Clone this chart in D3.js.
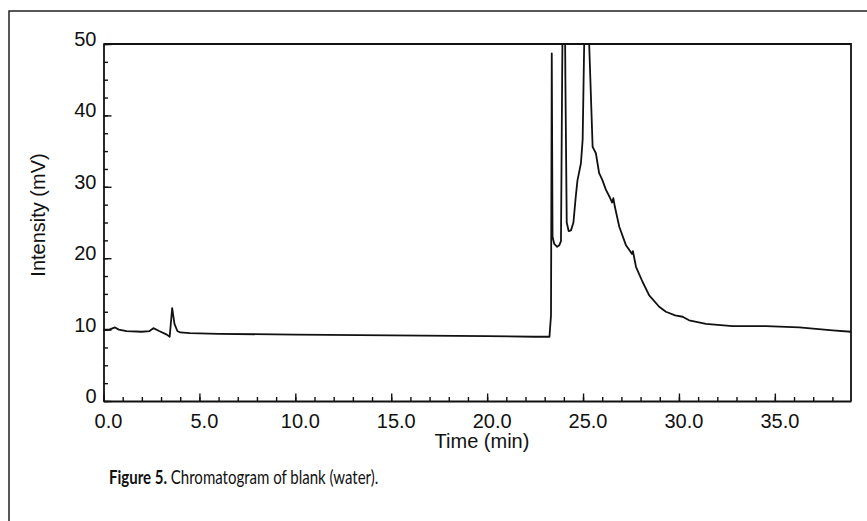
<!DOCTYPE html>
<html>
<head>
<meta charset="utf-8">
<script src="https://cdn.jsdelivr.net/npm/d3@7"></script>
<style>
  body { margin: 0; background: #fff; }
  text { fill: #111; }
</style>
</head>
<body>
<div id="chart"></div>
<script>
// chromatogram trace (time in min, intensity in mV)
var times = [0, 0.3, 0.6, 0.8, 1.2, 2.0, 2.4, 2.6, 2.9, 3.3, 3.45, 3.58, 3.7, 3.85, 4.0, 4.5,
  6, 10, 15, 20, 22.5, 23.25, 23.33, 23.37, 23.41, 23.5, 23.65, 23.76, 23.85, 23.91,
  24.0, 24.08, 24.15, 24.25, 24.37, 24.5, 24.62, 24.71, 24.89, 24.98, 25.06, 25.18, 25.32,
  25.5, 25.67, 25.84, 26.0, 26.19, 26.4, 26.52, 26.58, 26.66, 26.89, 27.24, 27.45, 27.55,
  27.6, 27.76, 28.1, 28.45, 28.97, 29.32, 29.8, 30.19, 30.53, 31.41, 32.79, 34.54, 36.27,
  38.01, 38.97];
var intensity = [10.0, 10.0, 10.3, 10.0, 9.8, 9.7, 9.8, 10.2, 9.8, 9.3, 9.0, 13.0, 10.8, 9.8, 9.6, 9.5,
  9.4, 9.3, 9.2, 9.1, 9.0, 9.0, 12.0, 48.7, 23.0, 22.0, 21.6, 21.8, 22.4, 45,
  75, 45, 25.0, 23.8, 23.9, 25.0, 28.6, 30.9, 33.3, 36.6, 50, 80, 50,
  35.6, 34.7, 31.9, 31.0, 29.6, 28.5, 27.8, 28.4, 27.2, 24.4, 21.8, 21.0, 20.6,
  21.0, 18.8, 16.7, 14.8, 13.2, 12.5, 12.0, 11.8, 11.3, 10.8, 10.5, 10.5, 10.3,
  9.9, 9.7];

var xMajor = [0, 5, 10, 15, 20, 25, 30, 35];
var yMajor = [0, 10, 20, 30, 40, 50];

var width = 867, height = 521;
var plotLeft = 103.5, plotRight = 851, plotTop = 44, plotBottom = 401;
var font = "'Liberation Sans', Arial, sans-serif";

var svg = d3.select("#chart").append("svg")
  .attr("width", width)
  .attr("height", height)
  .style("font-family", font);

// outer figure frame (runs off the right and bottom edge)
svg.append("rect")
  .attr("x", 9).attr("y", 11)
  .attr("width", 900).attr("height", 560)
  .attr("fill", "none")
  .attr("stroke", "#222")
  .attr("stroke-width", 1.5);

var x = d3.scaleLinear().domain([0, 38.97]).range([plotLeft, plotRight]);
var y = d3.scaleLinear().domain([0, 50]).range([plotBottom, plotTop]);

svg.append("clipPath").attr("id", "plotClip")
  .append("rect")
  .attr("x", plotLeft).attr("y", plotTop)
  .attr("width", plotRight - plotLeft).attr("height", plotBottom - plotTop);

// plot box top + right
svg.append("path")
  .attr("d", "M" + plotLeft + "," + plotTop + "H" + plotRight + "V" + plotBottom)
  .attr("fill", "none")
  .attr("stroke", "#111")
  .attr("stroke-width", 1.8);

// minor ticks
svg.append("g")
  .attr("transform", "translate(0," + plotBottom + ")")
  .call(d3.axisBottom(x).tickValues(d3.range(0, 39, 1)).tickSize(-4).tickSizeOuter(0).tickFormat(""))
  .call(function(g) { g.select(".domain").remove(); });

svg.append("g")
  .attr("transform", "translate(" + plotLeft + ",0)")
  .call(d3.axisLeft(y).tickValues(d3.range(0, 50.1, 2.5)).tickSize(-4.5).tickSizeOuter(0).tickFormat(""))
  .call(function(g) { g.select(".domain").remove(); });

// major ticks + labels
var xAxis = svg.append("g")
  .attr("transform", "translate(0," + plotBottom + ")")
  .call(d3.axisBottom(x).tickValues(xMajor).tickSize(-7.5).tickSizeOuter(0)
    .tickPadding(13).tickFormat(d3.format(".1f")));
xAxis.selectAll("text").attr("dx", 4.5);

var yAxis = svg.append("g")
  .attr("transform", "translate(" + plotLeft + ",0)")
  .call(d3.axisLeft(y).tickValues(yMajor).tickSize(-8).tickSizeOuter(0).tickPadding(7));
yAxis.selectAll("text").attr("y", -5);

svg.selectAll(".tick text")
  .style("font-family", font)
  .style("font-size", "20px")
  .attr("fill", "#111");
svg.selectAll(".domain").attr("stroke", "#111").attr("stroke-width", 1.8);
svg.selectAll(".tick line").attr("stroke", "#111").attr("stroke-width", 1.4);

// axis titles
svg.append("text")
  .attr("x", 482).attr("y", 448)
  .attr("text-anchor", "middle")
  .style("font-size", "20px")
  .text("Time (min)");

svg.append("text")
  .attr("transform", "translate(45,215) rotate(-90)")
  .attr("text-anchor", "middle")
  .style("font-size", "20px")
  .text("Intensity (mV)");

// trace
var line = d3.line()
  .x(function(d, i) { return x(times[i]); })
  .y(function(d) { return y(d); });

svg.append("path")
  .datum(intensity)
  .attr("clip-path", "url(#plotClip)")
  .attr("d", line)
  .attr("fill", "none")
  .attr("stroke", "#111")
  .attr("stroke-width", 1.8)
  .attr("stroke-linejoin", "round");

// caption (condensed face in the original, so squeeze it horizontally)
var cap = svg.append("g")
  .attr("transform", "translate(109,484) scale(0.77,1)")
  .append("text")
  .style("font-family", "Lato, 'Open Sans', sans-serif")
  .style("font-size", "19.5px");
cap.append("tspan").style("font-weight", "bold").text("Figure 5.");
cap.append("tspan").text(" Chromatogram of blank (water).");
</script>
</body>
</html>
